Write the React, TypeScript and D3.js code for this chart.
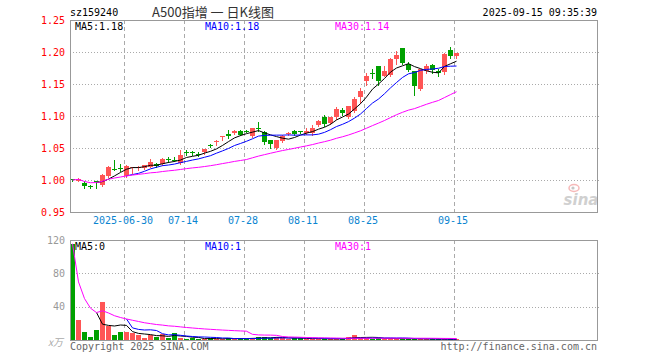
import React from "react";
import * as d3 from "d3";

const dates = [
  "2025-06-17","2025-06-18","2025-06-19","2025-06-20","2025-06-23","2025-06-24","2025-06-25","2025-06-26","2025-06-27","2025-06-30",
  "2025-07-01","2025-07-02","2025-07-03","2025-07-04","2025-07-07","2025-07-08","2025-07-09","2025-07-10","2025-07-11","2025-07-14",
  "2025-07-15","2025-07-16","2025-07-17","2025-07-18","2025-07-21","2025-07-22","2025-07-23","2025-07-24","2025-07-25","2025-07-28",
  "2025-07-29","2025-07-30","2025-07-31","2025-08-01","2025-08-04","2025-08-05","2025-08-06","2025-08-07","2025-08-08","2025-08-11",
  "2025-08-12","2025-08-13","2025-08-14","2025-08-15","2025-08-18","2025-08-19","2025-08-20","2025-08-21","2025-08-22","2025-08-25",
  "2025-08-26","2025-08-27","2025-08-28","2025-08-29","2025-09-01","2025-09-02","2025-09-03","2025-09-04","2025-09-05","2025-09-08",
  "2025-09-09","2025-09-10","2025-09-11","2025-09-12","2025-09-15",
];

const openP = [
  1.001, 0.999, 0.996, 0.991, 0.998, 0.992, 1.006, 1.017, 1.018, 1.006,
  1.018, 1.019, 1.018, 1.021, 1.025, 1.025, 1.033, 1.032, 1.026, 1.043,
  1.043, 1.040, 1.044, 1.055, 1.059, 1.067, 1.072, 1.073, 1.077, 1.077,
  1.068, 1.082, 1.075, 1.063, 1.050, 1.061, 1.072, 1.077, 1.076, 1.074,
  1.073, 1.086, 1.099, 1.089, 1.098, 1.110, 1.098, 1.108, 1.130, 1.154,
  1.167, 1.178, 1.163, 1.164, 1.189, 1.206, 1.182, 1.170, 1.142, 1.170,
  1.180, 1.170, 1.169, 1.203, 1.194,
];
const closeP = [
  1.000, 1.002, 0.991, 0.990, 0.997, 1.008, 1.021, 1.016, 1.017, 1.022,
  1.021, 1.021, 1.023, 1.028, 1.022, 1.033, 1.031, 1.031, 1.039, 1.042,
  1.042, 1.039, 1.048, 1.053, 1.061, 1.069, 1.069, 1.077, 1.071, 1.076,
  1.081, 1.081, 1.059, 1.056, 1.062, 1.069, 1.073, 1.072, 1.075, 1.077,
  1.081, 1.092, 1.087, 1.098, 1.111, 1.104, 1.115, 1.127, 1.139, 1.163,
  1.166, 1.155, 1.170, 1.189, 1.195, 1.183, 1.172, 1.147, 1.173, 1.178,
  1.172, 1.167, 1.197, 1.194, 1.198,
];
const highP = [
  1.002, 1.003, 0.999, 0.992, 0.999, 1.009, 1.022, 1.031, 1.025, 1.023,
  1.021, 1.022, 1.024, 1.033, 1.026, 1.034, 1.036, 1.036, 1.047, 1.047,
  1.046, 1.043, 1.049, 1.057, 1.062, 1.069, 1.078, 1.078, 1.078, 1.078,
  1.082, 1.091, 1.076, 1.063, 1.063, 1.070, 1.075, 1.078, 1.077, 1.081,
  1.086, 1.093, 1.101, 1.099, 1.114, 1.112, 1.116, 1.129, 1.143, 1.167,
  1.174, 1.178, 1.178, 1.190, 1.201, 1.206, 1.184, 1.171, 1.174, 1.181,
  1.182, 1.173, 1.198, 1.208, 1.199,
];
const lowP = [
  0.999, 0.998, 0.988, 0.988, 0.987, 0.990, 1.005, 1.015, 1.014, 1.005,
  1.011, 1.016, 1.017, 1.020, 1.021, 1.024, 1.028, 1.030, 1.025, 1.039,
  1.039, 1.038, 1.041, 1.051, 1.055, 1.063, 1.065, 1.072, 1.070, 1.075,
  1.067, 1.076, 1.056, 1.050, 1.049, 1.059, 1.070, 1.071, 1.073, 1.072,
  1.070, 1.085, 1.084, 1.088, 1.096, 1.101, 1.097, 1.107, 1.121, 1.149,
  1.160, 1.148, 1.162, 1.163, 1.181, 1.181, 1.170, 1.133, 1.141, 1.167,
  1.167, 1.162, 1.166, 1.190, 1.191,
];
// volume in 万
const volume = [
  115.5, 24, 9.6, 3.6, 12, 45.6, 16.8, 6, 9.6, 9.6,
  8.4, 6, 2.4, 6, 3.6, 7.2, 2.4, 8.4, 2.4, 1.2,
  2.4, 1.2, 1.2, 2.4, 1.2, 1.2, 2.4, 1.2, 2.4, 1.2,
  2.4, 3.6, 3.6, 2.4, 3.6, 2.4, 1.2, 2.4, 2.4, 1.2,
  1.2, 1.2, 1.8, 1.2, 1.8, 1.2, 3.6, 6.0, 2.4, 2.4,
  1.8, 2.4, 1.2, 1.8, 1.2, 1.6, 1.4, 1.6, 1.4, 1.0,
  1.2, 0.8, 0.9, 0.9, 0.7,
];

const priceTicks = [1.25, 1.2, 1.15, 1.1, 1.05, 1.0, 0.95];
const volTicks = [120, 80, 40];
const dateTicks = ["2025-06-30", "2025-07-14", "2025-07-28", "2025-08-11", "2025-08-25", "2025-09-15"];
const dateTickLabels = ["2025-06-30", "07-14", "07-28", "08-11", "08-25", "09-15"];
const priceMaLabels = ["MA5:1.18", "MA10:1.18", "MA30:1.14"];
const volMaLabels = ["MA5:0", "MA10:1", "MA30:1"];
const maPeriods = [5, 10, 30];
const maColors = ["#000000", "#0000ff", "#ff00ff"];
const codeText = "sz159240";
const titleText = "A500指增 一 日K线图";
const timeText = "2025-09-15 09:35:39";
const volUnit = "x万";
const copyText = "Copyright 2025 SINA.COM";
const urlText = "http://finance.sina.com.cn";

const UP = "#ff5555";
const DOWN = "#00a000";
const GRID = "#aaaaaa";
const FRAME = "#999999";
const MONO = "'DejaVu Sans Mono', 'Liberation Mono', monospace";

function movingAvg(arr: number[], n: number, cumulative: boolean) {
  return arr.map((_, i) => {
    if (i < n - 1 && !cumulative) return null;
    const s = Math.max(0, i - n + 1);
    return d3.mean(arr.slice(s, i + 1)) as number;
  });
}

export default function App() {
  const L = 70, R = 597;
  const pTop = 20, pBot = 212;
  const vTop = 240, vBot = 340;

  const x = d3.scaleBand<string>().domain(dates).range([L, L + 389]).paddingInner(1 / 6).paddingOuter(0);
  const bw = Math.round(x.bandwidth());
  const y = d3.scaleLinear().domain([0.95, 1.25]).range([pBot, pTop]);
  const yv = d3.scaleLinear().domain([0, 120]).range([vBot, vTop]);
  const cx = (d: string) => (x(d) as number) + 2.5;

  const priceMAs = maPeriods.map((n) => movingAvg(closeP, n, n === 30));
  const volMAs = maPeriods.map((n) => movingAvg(volume, n, n === 30));

  const lineP = d3.line<number | null>()
    .defined((d) => d !== null)
    .x((_, i) => cx(dates[i]))
    .y((d) => y(d as number));
  const lineV = d3.line<number | null>()
    .defined((d) => d !== null)
    .x((_, i) => cx(dates[i]))
    .y((d) => yv(d as number));

  return (
    <svg width={660} height={360} style={{ position: "absolute", left: 0, top: 0, background: "#fff" }}>
      <rect x={0} y={0} width={660} height={360} fill="#fff" />
      {/* header */}
      <text x={70} y={16} fontFamily={MONO} fontSize={10} fill="#000">{codeText}</text>
      <text x={213} y={17} fontFamily="'Noto Sans CJK SC', sans-serif" fontSize={13} fill="#333" textAnchor="middle">{titleText}</text>
      <text x={597} y={16} fontFamily={MONO} fontSize={10} fill="#000" textAnchor="end">{timeText}</text>

      {/* price grid */}
      <g shapeRendering="crispEdges">
        {priceTicks.slice(1, -1).map((t) => (
          <line key={t} x1={L} x2={R + 3} y1={Math.round(y(t)) + 0.5} y2={Math.round(y(t)) + 0.5} stroke={GRID} strokeDasharray="1,2" />
        ))}
        {volTicks.slice(1).map((t) => (
          <line key={t} x1={L} x2={R + 3} y1={Math.round(yv(t)) + 0.5} y2={Math.round(yv(t)) + 0.5} stroke={GRID} strokeDasharray="1,2" />
        ))}
        {dateTicks.map((d) => (
          <g key={d}>
            <line x1={(x(d) as number) + 0.5} x2={(x(d) as number) + 0.5} y1={pTop} y2={pBot} stroke={GRID} strokeDasharray="4,3" />
            <line x1={(x(d) as number) + 0.5} x2={(x(d) as number) + 0.5} y1={vTop} y2={vBot} stroke={GRID} strokeDasharray="4,3" />
          </g>
        ))}
      </g>

      {/* price axis labels */}
      {priceTicks.map((t) => (
        <text key={t} x={65} y={y(t) + 3.5} fontFamily={MONO} fontSize={10} fill="#ff0000" textAnchor="end">{t.toFixed(2)}</text>
      ))}
      {/* date labels */}
      {dateTicks.map((d, i) => (
        <text key={d} x={(x(d) as number) - 1} y={224} fontFamily={MONO} fontSize={10} fill="#0a84d0" textAnchor="middle">{dateTickLabels[i]}</text>
      ))}
      {/* volume axis labels */}
      {volTicks.map((t) => (
        <text key={t} x={65} y={yv(t) + 3.5} fontFamily={MONO} fontSize={10} fill="#999" textAnchor="end">{t}</text>
      ))}
      <text x={63} y={346} fontFamily="'Noto Sans CJK SC', sans-serif" fontSize={10} fill="#aaa" textAnchor="end" fontStyle="italic">{volUnit}</text>

      {/* sina logo */}
      <g opacity={0.55}>
        <ellipse cx={574} cy={188} rx={5} ry={3.5} fill="none" stroke="#f08080" strokeWidth={1.5} />
        <circle cx={573} cy={188} r={1.6} fill="#999" />
        <text x={581} y={205} fontFamily="'DejaVu Sans', sans-serif" fontSize={15} fontWeight="bold" fontStyle="italic" fill="#aaa" textAnchor="middle">sina</text>
      </g>

      {/* candles */}
      <g shapeRendering="crispEdges">
        {dates.map((d, i) => {
          const up = closeP[i] >= openP[i];
          const col = up ? UP : DOWN;
          const x0 = x(d) as number;
          const yo = Math.round(y(openP[i]));
          const yc = Math.round(y(closeP[i]));
          const yh = Math.round(y(highP[i]));
          const yl = Math.round(y(lowP[i]));
          const top = Math.min(yo, yc);
          const h = Math.max(1, Math.abs(yo - yc));
          return (
            <g key={d}>
              <rect x={x0 + 2} y={yh} width={1} height={Math.max(1, yl - yh + 1)} fill={col} />
              <rect x={x0} y={top} width={bw} height={h} fill={col} />
            </g>
          );
        })}
      </g>
      {/* price MA lines */}
      {priceMAs.map((m, k) => (
        <path key={k} d={lineP(m) as string} fill="none" stroke={maColors[k]} strokeWidth={1} />
      ))}

      {/* volume bars */}
      <g shapeRendering="crispEdges">
        {dates.map((d, i) => {
          const up = closeP[i] >= openP[i];
          const yt = Math.round(yv(volume[i]));
          return <rect key={d} x={x(d) as number} y={yt} width={bw} height={Math.max(1, vBot - yt)} fill={up ? UP : DOWN} />;
        })}
      </g>
      {volMAs.map((m, k) => (
        <path key={k} d={lineV(m) as string} fill="none" stroke={maColors[k]} strokeWidth={1} />
      ))}

      {/* frames */}
      <g shapeRendering="crispEdges" fill="none" stroke={FRAME}>
        <rect x={L + 0.5} y={pTop + 0.5} width={R - L} height={pBot - pTop} />
        <rect x={L + 0.5} y={vTop + 0.5} width={R - L} height={vBot - vTop} />
      </g>

      {/* MA labels */}
      {priceMaLabels.map((t, k) => (
        <text key={t} x={75 + k * 130} y={30} fontFamily={MONO} fontSize={10} fill={maColors[k]}>{t}</text>
      ))}
      {volMaLabels.map((t, k) => (
        <text key={t} x={75 + k * 130} y={250} fontFamily={MONO} fontSize={10} fill={maColors[k]}>{t}</text>
      ))}

      {/* footer */}
      <text x={70} y={350} fontFamily={MONO} fontSize={10} fill="#666">{copyText}</text>
      <text x={597} y={350} fontFamily={MONO} fontSize={10} fill="#666" textAnchor="end">{urlText}</text>
    </svg>
  );
}
